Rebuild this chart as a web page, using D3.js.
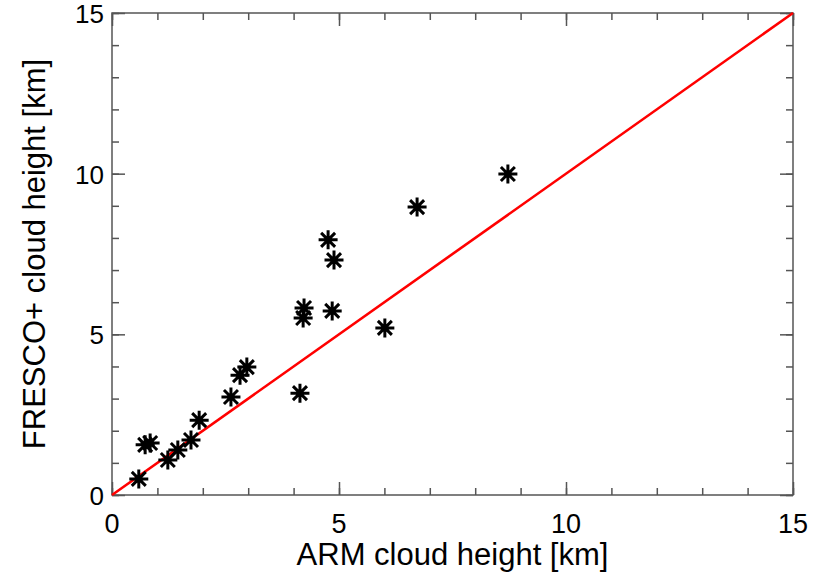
<!DOCTYPE html>
<html><head><meta charset="utf-8">
<script src="https://cdn.jsdelivr.net/npm/d3@7"></script>
<style>body{margin:0;background:#fff}svg{display:block}text{font-family:"Liberation Sans",Arial,Helvetica,sans-serif;fill:#000}</style>
</head><body>
<svg id="c" width="825" height="577"></svg>
<script>
const armHeight = [0.59,0.73,0.84,1.23,1.45,1.74,1.92,2.62,2.82,2.97,4.14,4.21,4.23,4.76,4.89,4.85,6.01,6.72,8.72];
const frescoHeight = [0.50,1.56,1.62,1.09,1.40,1.71,2.33,3.05,3.73,3.98,3.17,5.51,5.82,7.94,7.31,5.73,5.20,8.96,9.99];
const majorTicks = [0,5,10,15];
const minorTicks = d3.range(0,16,1);
const xTitle = "ARM cloud height [km]";
const yTitle = "FRESCO+ cloud height [km]";

const L=112, R=793, T=13, B=495;
const svg=d3.select("#c");
const x=d3.scaleLinear().domain([0,15]).range([L,R]);
const y=d3.scaleLinear().domain([0,15]).range([B,T]);
const axisCol="#555";

function styleAxis(g){
  g.select(".domain").remove();
  g.selectAll(".tick line").attr("stroke",axisCol).attr("stroke-width",1.5);
  g.selectAll(".tick text").remove();
}
// minor ticks on four sides
svg.append("g").attr("transform",`translate(0,${B})`).call(d3.axisTop(x).tickValues(minorTicks).tickSize(7).tickSizeOuter(0)).call(styleAxis);
svg.append("g").attr("transform",`translate(0,${T})`).call(d3.axisBottom(x).tickValues(minorTicks).tickSize(7).tickSizeOuter(0)).call(styleAxis);
svg.append("g").attr("transform",`translate(${L},0)`).call(d3.axisRight(y).tickValues(minorTicks).tickSize(7).tickSizeOuter(0)).call(styleAxis);
svg.append("g").attr("transform",`translate(${R},0)`).call(d3.axisLeft(y).tickValues(minorTicks).tickSize(7).tickSizeOuter(0)).call(styleAxis);
// major ticks
svg.append("g").attr("transform",`translate(0,${B})`).call(d3.axisTop(x).tickValues(majorTicks).tickSize(13).tickSizeOuter(0)).call(styleAxis);
svg.append("g").attr("transform",`translate(0,${T})`).call(d3.axisBottom(x).tickValues(majorTicks).tickSize(13).tickSizeOuter(0)).call(styleAxis);
svg.append("g").attr("transform",`translate(${L},0)`).call(d3.axisRight(y).tickValues(majorTicks).tickSize(13).tickSizeOuter(0)).call(styleAxis);
svg.append("g").attr("transform",`translate(${R},0)`).call(d3.axisLeft(y).tickValues(majorTicks).tickSize(13).tickSizeOuter(0)).call(styleAxis);

// frame
svg.append("rect").attr("x",L).attr("y",T).attr("width",R-L).attr("height",B-T)
  .attr("fill","none").attr("stroke",axisCol).attr("stroke-width",1.5);

// tick labels
svg.selectAll(".xl").data(majorTicks).join("text").attr("class","xl")
  .attr("x",d=>x(d)).attr("y",533).attr("text-anchor","middle").attr("font-size",27).text(d=>d);
svg.selectAll(".yl").data(majorTicks).join("text").attr("class","yl")
  .attr("x",104).attr("y",d=>y(d)+10).attr("text-anchor","end").attr("font-size",26).text(d=>d);

// titles
svg.append("text").attr("x",(L+R)/2).attr("y",565).attr("text-anchor","middle").attr("font-size",31).text(xTitle);
svg.append("text").attr("transform",`translate(45,${(T+B)/2}) rotate(-90)`).attr("text-anchor","middle").attr("font-size",31).text(yTitle);

// 1:1 line
svg.append("line").attr("x1",x(0)).attr("y1",y(0)).attr("x2",x(15)).attr("y2",y(15))
  .attr("stroke","#ff0000").attr("stroke-width",2.6);

// asterisks
const pts=armHeight.map((a,i)=>[a,frescoHeight[i]]);
const h=9.5, d=7;
const g=svg.append("g").attr("stroke","#000").attr("stroke-width",3);
pts.forEach(p=>{
  const cx=x(p[0]), cy=y(p[1]);
  g.append("path").attr("d",`M${cx-h},${cy}L${cx+h},${cy}M${cx},${cy-h}L${cx},${cy+h}M${cx-d},${cy-d}L${cx+d},${cy+d}M${cx-d},${cy+d}L${cx+d},${cy-d}`);
});
</script>
</body></html>
